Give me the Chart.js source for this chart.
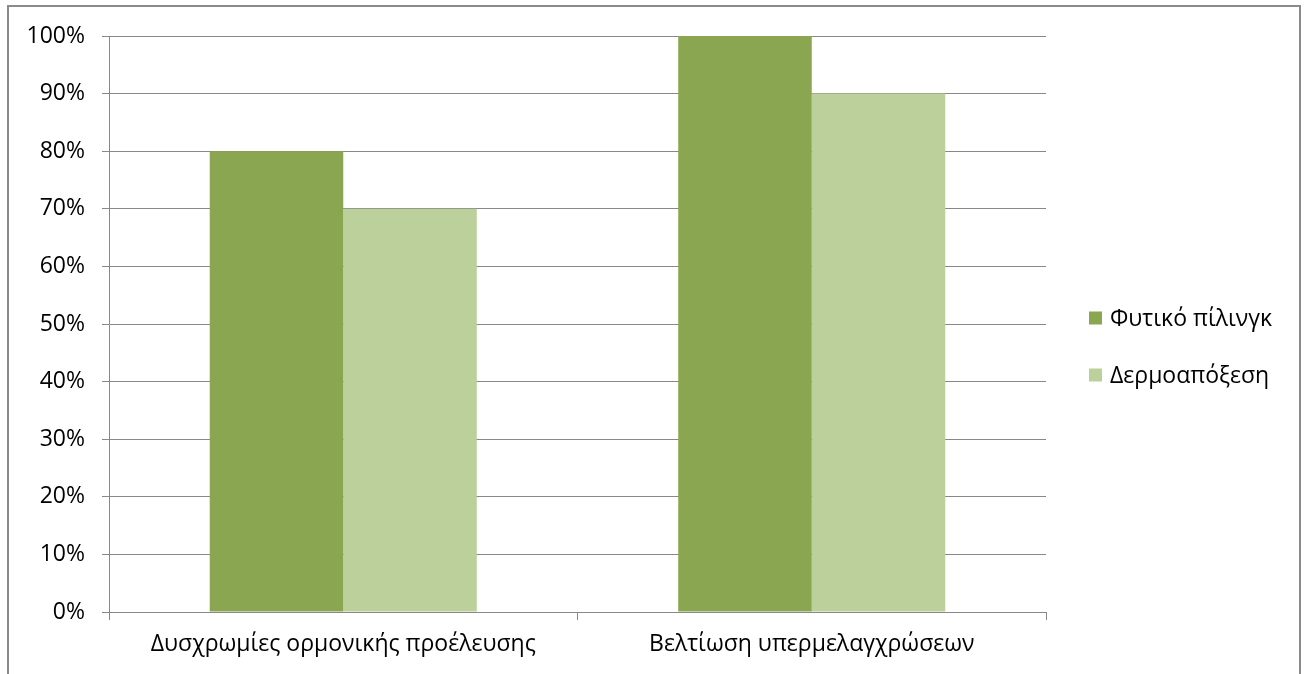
<!DOCTYPE html>
<html>
<head>
<meta charset="utf-8">
<script src="https://cdn.jsdelivr.net/npm/chart.js@4/dist/chart.umd.min.js"></script>
<style>
  html, body { margin: 0; padding: 0; background: #fff; overflow: hidden; }
  #frame { position: absolute; left: 7px; top: 5px; width: 1294px; height: 720px; border: 2px solid #8a8a8a; box-sizing: border-box; }
  #wrap { position: absolute; left: 0; top: 0; width: 1304px; height: 674px; }
</style>
</head>
<body>
<div id="frame"></div>
<div id="wrap"><canvas id="c" width="1304" height="674"></canvas></div>
<script>
const categories = ["Δυσχρωμίες ορμονικής προέλευσης", "Βελτίωση υπερμελαγχρώσεων"];
const seriesNames = ["Φυτικό πίλινγκ", "Δερμοαπόξεση"];
const seriesPlant = [80, 100];
const seriesDerm = [70, 90];
const colors = ["#8aa650", "#bbd09a"];
const FONT = "'Open Sans', 'Noto Sans', sans-serif";
const FS = 23;

const legendPlugin = {
  id: 'customLegend',
  afterDraw(chart) {
    const ctx = chart.ctx;
    ctx.save();
    ctx.font = FS + "px " + FONT;
    ctx.textBaseline = 'middle';
    ctx.textAlign = 'left';
    const ys = [318, 375];
    chart.data.datasets.forEach((ds, i) => {
      ctx.fillStyle = ds.backgroundColor;
      ctx.fillRect(1089, ys[i] - 6.5, 13, 13);
      ctx.fillStyle = '#000';
      ctx.fillText(ds.label, 1110, ys[i] + 1);
    });
    ctx.restore();
  }
};

new Chart(document.getElementById('c'), {
  type: 'bar',
  data: {
    labels: categories,
    datasets: [
      { label: seriesNames[0], data: seriesPlant, backgroundColor: colors[0], borderWidth: 0 },
      { label: seriesNames[1], data: seriesDerm, backgroundColor: colors[1], borderWidth: 0 }
    ]
  },
  options: {
    responsive: false,
    animation: false,
    devicePixelRatio: 1,
    layout: { padding: { left: 0, right: 258, top: 36, bottom: 0 } },
    plugins: { legend: { display: false }, tooltip: { enabled: false } },
    datasets: { bar: { categoryPercentage: 0.57, barPercentage: 1.0 } },
    scales: {
      x: {
        offset: true,
        grid: { offset: true, drawOnChartArea: false, drawTicks: true, tickLength: 8, color: '#888888', lineWidth: 1 },
        border: { display: true, color: '#888888', width: 1 },
        ticks: { font: { family: FONT, size: FS }, color: '#000', padding: 11, maxRotation: 0 },
        afterFit(scale) { scale.height = 674 - 612; }
      },
      y: {
        min: 0, max: 100,
        grid: { drawTicks: true, tickLength: 7, color: '#888888', lineWidth: 1 },
        border: { display: true, color: '#888888', width: 1 },
        ticks: { stepSize: 10, font: { family: FONT, size: FS }, color: '#000', padding: 17, callback: v => v + '%' },
        afterFit(scale) { scale.width = 109; }
      }
    }
  },
  plugins: [legendPlugin]
});
</script>
</body>
</html>
